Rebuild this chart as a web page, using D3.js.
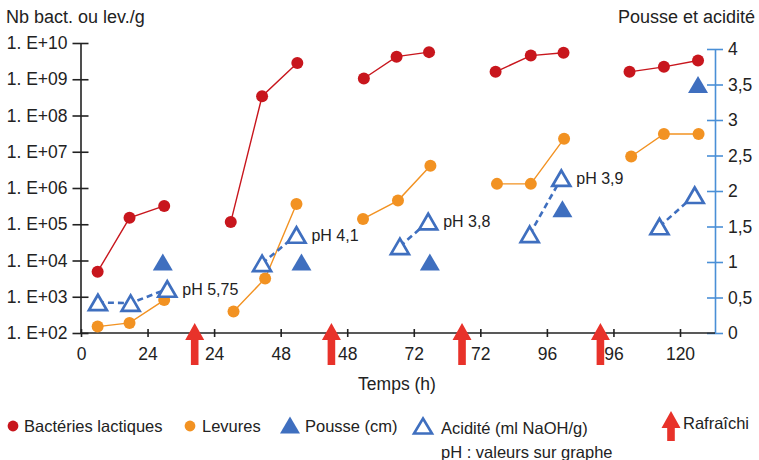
<!DOCTYPE html>
<html>
<head>
<meta charset="utf-8">
<script src="https://cdn.jsdelivr.net/npm/d3@7"></script>
<style>
  body { margin: 0; background: #fff; }
  svg text { font-family: "Liberation Sans", Arial, Helvetica, sans-serif; fill: #222; }
</style>
</head>
<body>
<div id="chart"></div>
<script>
// time in "axis hours" (each tick = 24), groups = periods between refreshes
var bactTime  = [6, 17.5, 30, 54, 65.3, 78, 102, 113.8, 125.5, 149.5, 162.2, 174, 197.8, 210.2, 222.5];
var bactValue = [4.9e3, 1.5e5, 3.2e5, 1.15e5, 3.4e8, 2.8e9, 1.05e9, 4.2e9, 5.6e9, 1.6e9, 4.5e9, 5.4e9, 1.6e9, 2.2e9, 3.3e9];
var bactGroup = [1, 1, 1, 2, 2, 2, 3, 3, 3, 4, 4, 4, 5, 5, 5];

var levTime  = [6, 17.5, 30, 55, 66.4, 77.7, 101.7, 114.3, 126, 150, 162.2, 174.2, 198.4, 210.2, 222.7];
var levValue = [1.5e2, 1.9e2, 8.1e2, 3.9e2, 3.2e3, 3.6e5, 1.4e5, 4.5e5, 4.1e6, 1.3e6, 1.3e6, 2.3e7, 7.4e6, 3.1e7, 3.1e7];
var levGroup = [1, 1, 1, 2, 2, 2, 3, 3, 3, 4, 4, 4, 5, 5, 5];

var pousseTime  = [29.5, 79.5, 125.8, 173.6, 222.5];
var pousseValue = [1, 1, 1, 1.75, 3.5];

var acidTime  = [6.1, 17.9, 31.1, 65.3, 77.7, 115, 125.2, 161.8, 173.2, 208.6, 221.3];
var acidValue = [0.43, 0.42, 0.62, 0.98, 1.38, 1.22, 1.57, 1.39, 2.18, 1.5, 1.94];
var acidGroup = [1, 1, 1, 2, 2, 3, 3, 4, 4, 5, 5];

var phLabels = ["pH 5,75", "pH 4,1", "pH 3,8", "pH 3,9"];
var refreshTime = [41, 90.3, 137.4, 187.3];

var xTicks = [0, 24, 48, 72, 96, 120, 144, 168, 192, 216];
var xTickLabels = ["0", "24", "24", "48", "48", "72", "72", "96", "96", "120"];
var yLeftTicks = [1e2, 1e3, 1e4, 1e5, 1e6, 1e7, 1e8, 1e9, 1e10];
var yRightTicks = [0, 0.5, 1, 1.5, 2, 2.5, 3, 3.5, 4];

var RED = "#c8161d", ORANGE = "#f29222", BLUE = "#3f6fbf", AXBLUE = "#4a8fd6", ARROW = "#e8322a";

var W = 759, H = 460;
var svg = d3.select("#chart").append("svg").attr("width", W).attr("height", H);

var x = d3.scaleLinear().domain([0, 216]).range([81, 680]);
var yL = d3.scaleLog().domain([1e2, 1e10]).range([333, 43]);
var yR = d3.scaleLinear().domain([0, 4]).range([333, 49]);
var rightX = 715, axisY = 333, leftX = 80.5;

// left axis
var gL = svg.append("g").attr("transform", "translate(" + leftX + ",0)")
  .call(d3.axisLeft(yL).tickValues(yLeftTicks).tickSize(8).tickSizeOuter(0).tickPadding(5)
    .tickFormat(function(d) { return "1. E+" + d3.format("02d")(Math.round(Math.log10(d))); }));
gL.selectAll(".tick line").attr("x1", 8).attr("x2", -8);
gL.selectAll("text").style("font-size", "17.5px").attr("font-family", null);
gL.selectAll("line, path").attr("stroke", "#222").attr("stroke-width", 1.6);

// right axis
var gR = svg.append("g").attr("transform", "translate(" + rightX + ",0)")
  .call(d3.axisRight(yR).tickValues(yRightTicks).tickSize(8).tickSizeOuter(0).tickPadding(5)
    .tickFormat(function(d) { return String(d).replace(".", ","); }));
gR.selectAll(".tick line").attr("x1", -8).attr("x2", 8);
gR.selectAll("text").style("font-size", "17.5px").attr("font-family", null);
gR.selectAll("line, path").attr("stroke", AXBLUE).attr("stroke-width", 1.6);

// bottom axis
var gB = svg.append("g").attr("transform", "translate(0," + axisY + ")")
  .call(d3.axisBottom(x).tickValues(xTicks).tickSize(4).tickSizeOuter(0).tickPadding(11)
    .tickFormat(function(d, i) { return xTickLabels[i]; }));
gB.select(".domain").remove();
gB.selectAll(".tick line").attr("y1", -4).attr("y2", 4).attr("stroke", "#222").attr("stroke-width", 1.6);
gB.selectAll("text").style("font-size", "17.5px").attr("font-family", null);
svg.append("line").attr("x1", leftX).attr("x2", rightX).attr("y1", axisY).attr("y2", axisY)
  .attr("stroke", "#222").attr("stroke-width", 1.6);

// titles
svg.append("text").attr("x", 6).attr("y", 23).style("font-size", "18px").text("Nb bact. ou lev./g");
svg.append("text").attr("x", 755).attr("y", 23).attr("text-anchor", "end").style("font-size", "18px").text("Pousse et acidité");
svg.append("text").attr("x", 397).attr("y", 390).attr("text-anchor", "middle").style("font-size", "17.5px").text("Temps (h)");

function toPoints(t, v, g) {
  return t.map(function(d, i) { return {t: d, v: v[i], g: g ? g[i] : 0}; });
}

function drawSeries(pts, yScale, color, width, dash) {
  var groups = d3.groups(pts, function(d) { return d.g; });
  var line = d3.line().x(function(d) { return x(d.t); }).y(function(d) { return yScale(d.v); });
  svg.append("g").selectAll("path").data(groups).enter().append("path")
    .attr("d", function(d) { return line(d[1]); })
    .attr("fill", "none").attr("stroke", color).attr("stroke-width", width)
    .attr("stroke-dasharray", dash || null);
}

var bact = toPoints(bactTime, bactValue, bactGroup);
var lev = toPoints(levTime, levValue, levGroup);
var pousse = toPoints(pousseTime, pousseValue);
var acid = toPoints(acidTime, acidValue, acidGroup);

drawSeries(bact, yL, RED, 1.4);
drawSeries(lev, yL, ORANGE, 1.4);
drawSeries(acid, yR, BLUE, 2.6, "6,4");

svg.append("g").selectAll("circle").data(bact).enter().append("circle")
  .attr("cx", function(d) { return x(d.t); }).attr("cy", function(d) { return yL(d.v); })
  .attr("r", 6).attr("fill", RED);
svg.append("g").selectAll("circle").data(lev).enter().append("circle")
  .attr("cx", function(d) { return x(d.t); }).attr("cy", function(d) { return yL(d.v); })
  .attr("r", 6).attr("fill", ORANGE);

function triPath(cx, cy, w, h) {
  return "M" + cx + "," + (cy - h / 2) + "L" + (cx + w / 2) + "," + (cy + h / 2) + "L" + (cx - w / 2) + "," + (cy + h / 2) + "Z";
}

svg.append("g").selectAll("path").data(pousse).enter().append("path")
  .attr("d", function(d) { return triPath(x(d.t), yR(d.v), 20, 17); })
  .attr("fill", BLUE);

svg.append("g").selectAll("path").data(acid).enter().append("path")
  .attr("d", function(d) { return triPath(x(d.t), yR(d.v), 18, 15.5); })
  .attr("fill", "#fff").attr("stroke", BLUE).attr("stroke-width", 2.7).attr("stroke-linejoin", "miter");

// pH labels next to last acidity point of groups 1-4
var lastAcid = d3.groups(acid, function(d) { return d.g; }).map(function(g) { return g[1][g[1].length - 1]; });
svg.append("g").selectAll("text").data(phLabels).enter().append("text")
  .attr("x", function(d, i) { return x(lastAcid[i].t) + 15; })
  .attr("y", function(d, i) { return yR(lastAcid[i].v); })
  .attr("dy", "0.35em").style("font-size", "16px").text(function(d) { return d; });

// refresh arrows
function arrowPath(cx, top, len) {
  var hw = 9.5, hh = 17, sw = 3.8;
  return "M" + cx + "," + top + "L" + (cx + hw) + "," + (top + hh) + "L" + (cx + sw) + "," + (top + hh) +
    "L" + (cx + sw) + "," + (top + len) + "L" + (cx - sw) + "," + (top + len) + "L" + (cx - sw) + "," + (top + hh) +
    "L" + (cx - hw) + "," + (top + hh) + "Z";
}
svg.append("g").selectAll("path").data(refreshTime).enter().append("path")
  .attr("d", function(d) { return arrowPath(x(d), 323, 42); })
  .attr("fill", ARROW);

// legend
var leg = svg.append("g").style("font-size", "16.5px");
leg.append("circle").attr("cx", 13).attr("cy", 426).attr("r", 5.4).attr("fill", RED);
leg.append("text").attr("x", 24).attr("y", 426).attr("dy", "0.35em").text("Bactéries lactiques");
leg.append("circle").attr("cx", 190).attr("cy", 426).attr("r", 5.4).attr("fill", ORANGE);
leg.append("text").attr("x", 202).attr("y", 426).attr("dy", "0.35em").text("Levures");
leg.append("path").attr("d", triPath(290, 425, 20, 17)).attr("fill", BLUE);
leg.append("text").attr("x", 305).attr("y", 426).attr("dy", "0.35em").text("Pousse (cm)");
leg.append("path").attr("d", triPath(423, 426, 18, 15)).attr("fill", "#fff").attr("stroke", BLUE).attr("stroke-width", 2.6);
leg.append("text").attr("x", 441).attr("y", 428).attr("dy", "0.35em").text("Acidité (ml NaOH/g)");
leg.append("text").attr("x", 441).attr("y", 452).attr("dy", "0.35em").text("pH : valeurs sur graphe");
leg.append("path").attr("d", arrowPath(671, 411, 30)).attr("fill", ARROW);
leg.append("text").attr("x", 683).attr("y", 423).attr("dy", "0.35em").text("Rafraîchi");
</script>
</body>
</html>
